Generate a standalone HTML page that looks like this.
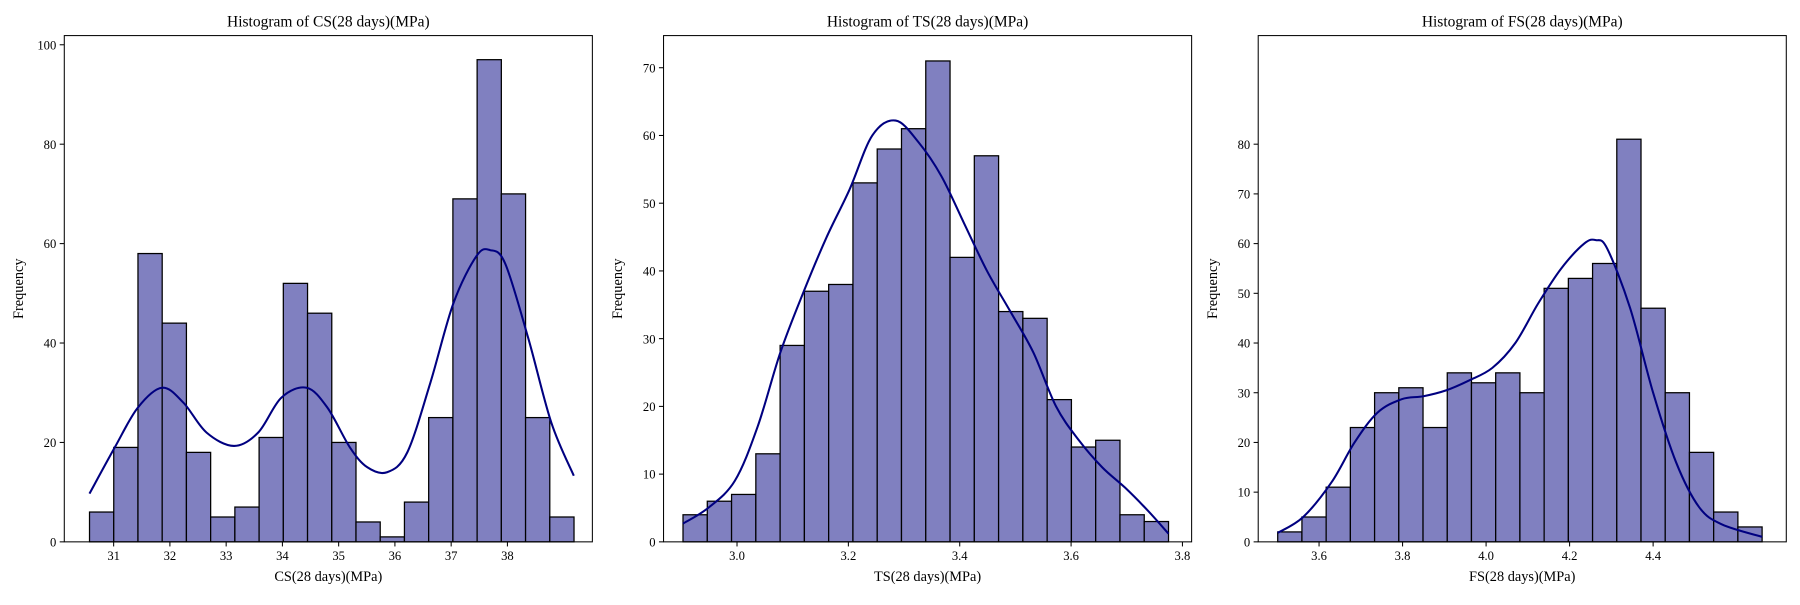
<!DOCTYPE html>
<html><head><meta charset="utf-8"><style>
body{margin:0;background:#fff;}
svg text{font-family:"Liberation Serif",serif;fill:#000;}
</style></head><body>
<svg id="c" width="1800" height="600" viewBox="0 0 1800 600" xmlns="http://www.w3.org/2000/svg"><g id="root" transform="scale(1.148)"></g></svg>
<script>
// ---- Panel 1: CS ----
const csBinStart = 30.571, csBinEnd = 39.184;
const csCounts = [6,19,58,44,18,5,7,21,52,46,20,4,1,8,25,69,97,70,25,5];
const csKdeX = [30.57,31.02,31.43,31.86,32.24,32.65,33.14,33.57,33.98,34.43,34.80,35.20,35.51,35.86,36.22,36.63,37.04,37.45,37.69,37.96,38.37,38.78,39.18];
const csKdeY = [9.7,19,27,31,28,22,19.3,22,29,31,27,19,15,14,18,32,48,57.5,58.7,56,41,24,13.3];
const csXTicks = [31,32,33,34,35,36,37,38];
const csYTicks = [0,20,40,60,80,100];
// ---- Panel 2: TS ----
const tsBinStart = 2.903, tsBinEnd = 3.775;
const tsCounts = [4,6,7,13,29,37,38,53,58,61,71,42,57,34,33,21,14,15,4,3];
const tsKdeX = [2.903,2.948,2.996,3.037,3.078,3.120,3.161,3.202,3.243,3.285,3.326,3.367,3.408,3.449,3.491,3.532,3.573,3.614,3.656,3.697,3.738,3.775];
const tsKdeY = [2.7,5,9,17,28,37,45,52,60,62.2,59,54,47,40,34,28,20,15,11,8,4.6,1.2];
const tsXTicks = [3.0,3.2,3.4,3.6,3.8];
const tsYTicks = [0,10,20,30,40,50,60,70];
// ---- Panel 3: FS ----
const fsBinStart = 3.501, fsBinEnd = 4.661;
const fsCounts = [2,5,11,23,30,31,23,34,32,34,30,51,53,56,81,47,30,18,6,3];
const fsKdeX = [3.501,3.562,3.630,3.685,3.740,3.798,3.850,3.905,3.960,4.015,4.070,4.125,4.180,4.235,4.263,4.290,4.345,4.400,4.455,4.510,4.565,4.661];
const fsKdeY = [1.8,5,12,20,26,28.7,29.3,30.5,32.5,35,40,48,55,60,60.7,59,47,30,16,7,3.5,1];
const fsXTicks = [3.6,3.8,4.0,4.2,4.4];
const fsYTicks = [0,10,20,30,40,50,60,70,80];

const NS="http://www.w3.org/2000/svg";
const svg=document.getElementById('root');
function mk(tag,attrs,parent){const e=document.createElementNS(NS,tag);for(const k in attrs)e.setAttribute(k,attrs[k]);(parent||svg).appendChild(e);return e;}

function panel(p){
  const g=mk('g',{});
  
  
  const L=p.left,R=p.left+460,T=31,B=472;
  const xs=v=>p.px0+(v-p.v0)*p.pxPer;
  const ys=v=>B-v*p.yPer;
  const n=p.counts.length, w=(p.binEnd-p.binStart)/n;
  p.counts.forEach((c,i)=>{
    const x0=xs(p.binStart+i*w), x1=xs(p.binStart+(i+1)*w);
    const r=mk('rect',{x:x0,y:ys(c),width:x1-x0,height:B-ys(c),fill:'#8080c0',stroke:'#000','stroke-width':1.1},g);
    
    
  });
  const pts=p.kx.map((v,i)=>[xs(v),ys(p.ky[i])]);
  let d='M'+pts[0][0]+','+pts[0][1];
  for(let i=0;i<pts.length-1;i++){
    const p0=pts[Math.max(0,i-1)],p1=pts[i],p2=pts[i+1],p3=pts[Math.min(pts.length-1,i+2)];
    const c1=[p1[0]+(p2[0]-p0[0])/6,p1[1]+(p2[1]-p0[1])/6];
    const c2=[p2[0]-(p3[0]-p1[0])/6,p2[1]-(p3[1]-p1[1])/6];
    d+=` C${c1[0]},${c1[1]} ${c2[0]},${c2[1]} ${p2[0]},${p2[1]}`;
  }
  const k=mk('path',{d:d,fill:'none',stroke:'#000080','stroke-width':1.8},g);
  
  
  const fr=mk('rect',{x:L,y:T,width:R-L,height:B-T,fill:'none',stroke:'#000','stroke-width':0.9},g);
  
  
  p.xt.forEach(v=>{
    const x=xs(v);
    mk('line',{x1:x,y1:B,x2:x,y2:B+4,stroke:'#000','stroke-width':0.9},g);
    const t=mk('text',{x:x,y:B+16,'text-anchor':'middle','font-size':11},g);
    t.textContent=p.xfmt(v);
    
    
  });
  p.yt.forEach(v=>{
    const y=ys(v);
    mk('line',{x1:L,y1:y,x2:L-4,y2:y,stroke:'#000','stroke-width':0.9},g);
    const t=mk('text',{x:L-7,y:y+4,'text-anchor':'end','font-size':11},g);
    t.textContent=v;
    
    
  });
  const ti=mk('text',{x:(L+R)/2,y:23,'text-anchor':'middle','font-size':13.5},g);
  ti.textContent=p.title;
  
  
  const xl=mk('text',{x:(L+R)/2,y:506,'text-anchor':'middle','font-size':12.5},g);
  xl.textContent=p.xlabel;
  
  
  const yl=mk('text',{x:0,y:0,'text-anchor':'middle','font-size':12.5,transform:`translate(${L-36},${(T+B)/2}) rotate(-90)`},g);
  yl.textContent='Frequency';
  
  
}
panel({key:'cs',left:56,px0:99,v0:31,pxPer:49,yPer:4.33,binStart:csBinStart,binEnd:csBinEnd,counts:csCounts,kx:csKdeX,ky:csKdeY,xt:csXTicks,yt:csYTicks,xfmt:v=>String(v),title:'Histogram of CS(28 days)(MPa)',xlabel:'CS(28 days)(MPa)'});
panel({key:'ts',left:578,px0:642,v0:3.0,pxPer:485,yPer:5.9,binStart:tsBinStart,binEnd:tsBinEnd,counts:tsCounts,kx:tsKdeX,ky:tsKdeY,xt:tsXTicks,yt:tsYTicks,xfmt:v=>v.toFixed(1),title:'Histogram of TS(28 days)(MPa)',xlabel:'TS(28 days)(MPa)'});
panel({key:'fs',left:1096,px0:1149,v0:3.6,pxPer:363.75,yPer:4.33,binStart:fsBinStart,binEnd:fsBinEnd,counts:fsCounts,kx:fsKdeX,ky:fsKdeY,xt:fsXTicks,yt:fsYTicks,xfmt:v=>v.toFixed(1),title:'Histogram of FS(28 days)(MPa)',xlabel:'FS(28 days)(MPa)'});
</script>
</body></html>
